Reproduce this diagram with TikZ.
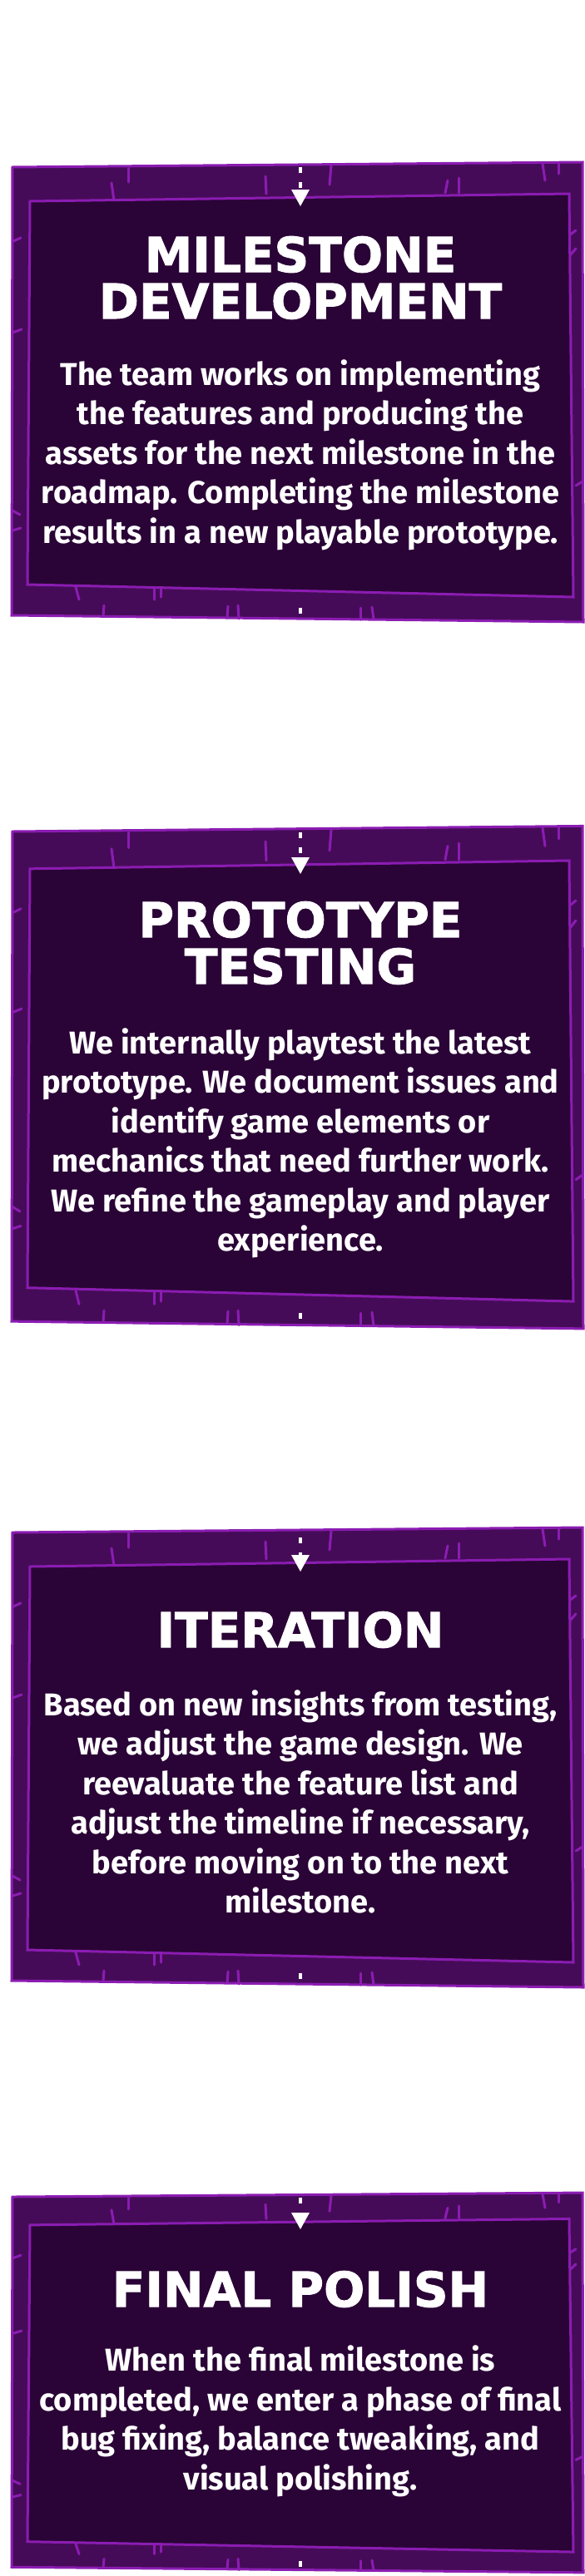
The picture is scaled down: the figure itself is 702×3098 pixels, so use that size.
\documentclass[tikz,border=0pt]{standalone}
\usepackage{fontspec}
\usepackage{tikz}
\newfontfamily\titlefont{DejaVu Sans}[BoldFeatures={FakeBold=1.6}]
\newfontfamily\bodyfont{Fira Sans}
\definecolor{framefill}{RGB}{70,11,88}
\definecolor{panelfill}{RGB}{42,4,54}
\definecolor{frameline}{RGB}{139,28,178}

\begin{document}
\begin{tikzpicture}[x=1pt,y=1pt,
    frameedge/.style={draw=frameline,line width=3pt},
    notch/.style={draw=frameline,line width=3pt,line cap=round},
    titletext/.style={text=white,align=center,inner sep=0pt,font=\titlefont\bfseries\fontsize{58}{56}\selectfont},
    bodytext/.style={text=white,align=center,inner sep=0pt,font=\bodyfont\bfseries\fontsize{38}{47.5}\selectfont},
    flowline/.style={draw=white,line width=4pt,dash pattern=on 7pt off 11pt,shorten >=16pt}]
        \useasboundingbox (0,0) rectangle (702,-3098);
        \fill [white] (0,0) rectangle (702,-3098);
        % frames, one per step
        \foreach \ytop/\ys in {201/1, 1000/1.093, 1843/1.0, 2642/0.826} {
        \begin{scope}[shift={(0,-\ytop)},yscale=\ys]
        \fill [framefill] (15,0) -- (700,6) -- (701,-547) -- (14,-539) -- cycle;
        \draw [notch] (134,-19) -- (137,-40);
        \draw [notch] (154,-1) -- (154,-18);
        \draw [notch] (319,-11) -- (320,-32);
        \draw [notch] (398,2) -- (396,-21);
        \draw [notch] (538,-16) -- (535,-31);
        \draw [notch] (551,-13) -- (551,-31);
        \draw [notch] (652,4) -- (655,-16);
        \draw [notch] (671,5) -- (671,-8);
        \draw [notch] (16,-89) -- (25,-85);
        \draw [notch] (15,-199) -- (26,-195);
        \draw [notch] (15,-413) -- (24,-418);
        \draw [notch] (15,-437) -- (25,-434);
        \draw [notch] (684,-82) -- (692,-76);
        \draw [notch] (684,-107) -- (692,-98);
        \draw [notch] (692,-383) -- (700,-378);
        \draw [notch] (91,-505) -- (95,-520);
        \draw [notch] (185,-507) -- (185,-520);
        \draw [notch] (193,-507) -- (193,-517);
        \draw [notch] (125,-527) -- (124,-540);
        \draw [notch] (274,-528) -- (273,-542);
        \draw [notch] (286,-527) -- (287,-543);
        \draw [notch] (433,-530) -- (433,-544);
        \draw [notch] (447,-529) -- (449,-544);
        \draw [frameedge,fill=panelfill] (36,-41) -- (684,-32) -- (689,-517) -- (33,-502) -- cycle;
        \draw [frameedge] (15,0) -- (700,6) -- (701,-547) -- (14,-539) -- cycle;
        \end{scope}
        }
        % texts
        \node [titletext] (devtitle) at (361,-334) {MILESTONE\\DEVELOPMENT};
        \node [bodytext] (devtext) at (361,-547) {The team works on implementing\\the features and producing the\\assets for the next milestone in the\\roadmap. Completing the milestone\\results in a new playable prototype.};
        \node [titletext] (testtitle) at (361,-1134) {PROTOTYPE\\TESTING};
        \node [bodytext] (testtext) at (361,-1375) {We internally playtest the latest\\prototype. We document issues and\\identify game elements or\\mechanics that need further work.\\We refine the gameplay and player\\experience.};
        \node [titletext] (itertitle) at (361,-1960) {ITERATION};
        \node [bodytext] (itertext) at (361,-2167) {Based on new insights from testing,\\we adjust the game design. We\\reevaluate the feature list and\\adjust the timeline if necessary,\\before moving on to the next\\milestone.};
        \node [titletext] (polishtitle) at (361,-2753) {FINAL POLISH};
        \node [bodytext] (polishtext) at (361,-2912) {When the final milestone is\\completed, we enter a phase of final\\bug fixing, balance tweaking, and\\visual polishing.};
        % flow between the steps
        \coordinate (entry) at (361,-3);
        \coordinate (devin) at (361,-248);
        \coordinate (devout) at (361,-731);
        \coordinate (testin) at (361,-1051);
        \coordinate (testout) at (361,-1579);
        \coordinate (iterin) at (361,-1890);
        \coordinate (iterout) at (361,-2373);
        \coordinate (polishin) at (361,-2681);
        \coordinate (polishout) at (361,-3080);
        \coordinate (exit) at (361,-3098);
        \draw [flowline] (entry) -- (devin);
        \fill [white] (devin) -- ++(-11,20) -- ++(22,0) -- cycle;
        \draw [flowline] (devout) -- (testin);
        \fill [white] (testin) -- ++(-11,20) -- ++(22,0) -- cycle;
        \draw [flowline] (testout) -- (iterin);
        \fill [white] (iterin) -- ++(-11,20) -- ++(22,0) -- cycle;
        \draw [flowline] (iterout) -- (polishin);
        \fill [white] (polishin) -- ++(-11,20) -- ++(22,0) -- cycle;
        \draw [flowline,shorten >=0pt] (polishout) -- (exit);
\end{tikzpicture}
\end{document}
